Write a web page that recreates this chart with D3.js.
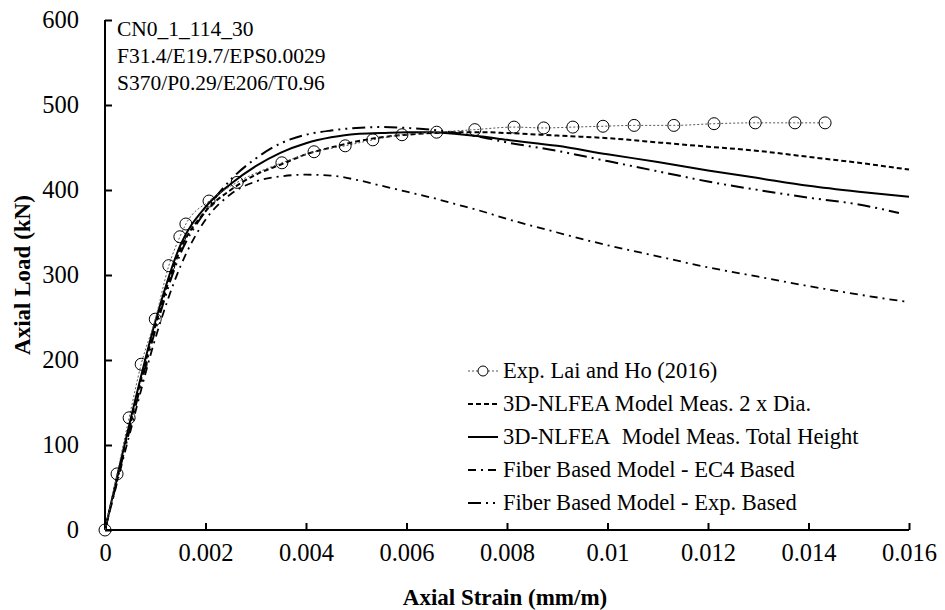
<!DOCTYPE html>
<html>
<head>
<meta charset="utf-8">
<script src="https://cdn.jsdelivr.net/npm/d3@7"></script>
<style>
  body { margin: 0; background: #fff; }
  svg { display: block; font-family: "Liberation Serif", "Times New Roman", serif; }
</style>
</head>
<body>
<svg id="chart" width="945" height="610"></svg>
<script>
// Axial load vs axial strain, CN0_1_114_30

const expStrain = [0, 0.00024, 0.00048, 0.00072, 0.0010, 0.00127, 0.00149, 0.00161, 0.00207, 0.00263, 0.00352,
  0.00416, 0.00478, 0.00533, 0.00591, 0.0066, 0.00736, 0.00814, 0.00873, 0.00931, 0.00991, 0.01053, 0.01132,
  0.01212, 0.01294, 0.01373, 0.01433];
const expLoad = [0, 66, 132, 195, 248, 311, 345, 360, 387, 409, 432, 445, 452, 459, 465, 468, 471, 474, 473, 474,
  475, 476, 476, 478, 479, 479, 479];

const modelStrain = [0, 0.0005, 0.001, 0.0015, 0.002, 0.0025, 0.003, 0.0035, 0.004, 0.0045, 0.005, 0.0055, 0.006,
  0.0065, 0.007, 0.0075, 0.008, 0.009, 0.010, 0.011, 0.012, 0.013, 0.014, 0.015, 0.016];
const diaLoad = [0, 125, 240, 330, 375, 400, 418, 430, 442, 450, 457, 462, 465, 467, 468, 468, 467, 464, 461, 456,
  451, 446, 439, 432, 424];
const totalLoad = [0, 128, 245, 335, 380, 407, 428, 444, 455, 462, 466, 467, 468, 468, 466, 463, 459, 452, 442, 433,
  423, 414, 405, 398, 392];
const ec4Load = [0, 115, 225, 310, 365, 395, 410, 416, 418, 417, 412, 405, 398, 391, 383, 375, 366, 350, 335, 322,
  309, 298, 287, 277, 268];

const expBasedStrain = [0, 0.0005, 0.001, 0.0015, 0.002, 0.0025, 0.003, 0.0035, 0.004, 0.0045, 0.005, 0.0055, 0.006,
  0.0065, 0.007, 0.0075, 0.008, 0.009, 0.010, 0.011, 0.012, 0.013, 0.014, 0.015, 0.0158];
const expBasedLoad = [0, 120, 235, 325, 375, 412, 437, 455, 465, 470, 473, 474, 473, 471, 467, 462, 456, 446, 434,
  422, 410, 400, 391, 383, 373];

const xTicks = [0, 0.002, 0.004, 0.006, 0.008, 0.01, 0.012, 0.014, 0.016];
const xTickLabels = ["0", "0.002", "0.004", "0.006", "0.008", "0.01", "0.012", "0.014", "0.016"];
const yTicks = [0, 100, 200, 300, 400, 500, 600];
const infoLines = ["CN0_1_114_30", "F31.4/E19.7/EPS0.0029", "S370/P0.29/E206/T0.96"];
const legendLabels = ["Exp. Lai and Ho (2016)", "3D-NLFEA Model Meas. 2 x Dia.", "3D-NLFEA\u00a0 Model Meas. Total Height",
  "Fiber Based Model - EC4 Based", "Fiber Based Model - Exp. Based"];

const svg = d3.select("#chart");
const x = d3.scaleLinear().domain([0, 0.016]).range([105, 909]);
const y = d3.scaleLinear().domain([0, 600]).range([530, 20]);

const styles = [
  { width: 1, dash: "2,2", color: "#555" },
  { width: 2, dash: "5,3", color: "#000" },
  { width: 2, dash: null, color: "#000" },
  { width: 1.8, dash: "8,5,2,5", color: "#000" },
  { width: 2, dash: "13,5,2,5,2,5", color: "#000" }
];

// axes
const xAxis = svg.append("g").attr("transform", `translate(0,${y(0)})`)
  .call(d3.axisBottom(x).tickValues(xTicks).tickSize(-7).tickPadding(14)
    .tickFormat((d, i) => xTickLabels[i]));
const yAxis = svg.append("g").attr("transform", `translate(${x(0)},0)`)
  .call(d3.axisLeft(y).tickValues(yTicks).tickSize(-7).tickPadding(26));
[xAxis, yAxis].forEach(a => {
  a.attr("font-family", null);
  a.select(".domain").attr("stroke", "#000").attr("stroke-width", 2);
  a.selectAll(".tick line").attr("stroke", "#000").attr("stroke-width", 2);
  a.selectAll("text").attr("font-size", 24.5).attr("fill", "#000");
});
xAxis.select(".domain").attr("d", `M${x(0)},0H${x(0.016)}`);
yAxis.select(".domain").attr("d", `M0,${y(600)}V${y(0)}`);

// titles
svg.append("text").attr("x", 505).attr("y", 605).attr("text-anchor", "middle")
  .attr("font-size", 23).attr("font-weight", "bold").text("Axial Strain (mm/m)");
svg.append("text").attr("transform", "translate(30,275) rotate(-90)").attr("text-anchor", "middle")
  .attr("font-size", 23).attr("font-weight", "bold").text("Axial Load (kN)");

// info text
svg.append("g").selectAll("text").data(infoLines).join("text")
  .attr("x", 117).attr("y", (d, i) => 36 + i * 27)
  .attr("font-size", 21.5).text(d => d);

const line = d3.line().x(d => x(d[0])).y(d => y(d[1]));
const series = [
  d3.zip(expStrain, expLoad),
  d3.zip(modelStrain, diaLoad),
  d3.zip(modelStrain, totalLoad),
  d3.zip(modelStrain, ec4Load),
  d3.zip(expBasedStrain, expBasedLoad)
];

const plot = svg.append("g");
[4, 3, 1, 2, 0].forEach(i => {
  plot.append("path").datum(series[i]).attr("d", line.curve(d3.curveMonotoneX))
    .attr("fill", "none").attr("stroke", styles[i].color).attr("stroke-width", styles[i].width)
    .attr("stroke-dasharray", styles[i].dash);
});
plot.selectAll("circle").data(series[0]).join("circle")
  .attr("cx", d => x(d[0])).attr("cy", d => y(d[1])).attr("r", 6)
  .attr("fill", "none").attr("stroke", "#000").attr("stroke-width", 1);

// legend
const legend = svg.append("g");
legendLabels.forEach((lab, i) => {
  const cy = 371 + i * 33;
  legend.append("line").attr("x1", 468).attr("x2", 498).attr("y1", cy).attr("y2", cy)
    .attr("stroke", styles[i].color).attr("stroke-width", styles[i].width)
    .attr("stroke-dasharray", styles[i].dash);
  if (i === 0) {
    legend.append("circle").attr("cx", 483).attr("cy", cy).attr("r", 5)
      .attr("fill", "#fff").attr("stroke", "#000").attr("stroke-width", 1);
  }
  legend.append("text").attr("x", 503).attr("y", cy + 7).attr("font-size", 22.5).text(lab);
});
</script>
</body>
</html>
